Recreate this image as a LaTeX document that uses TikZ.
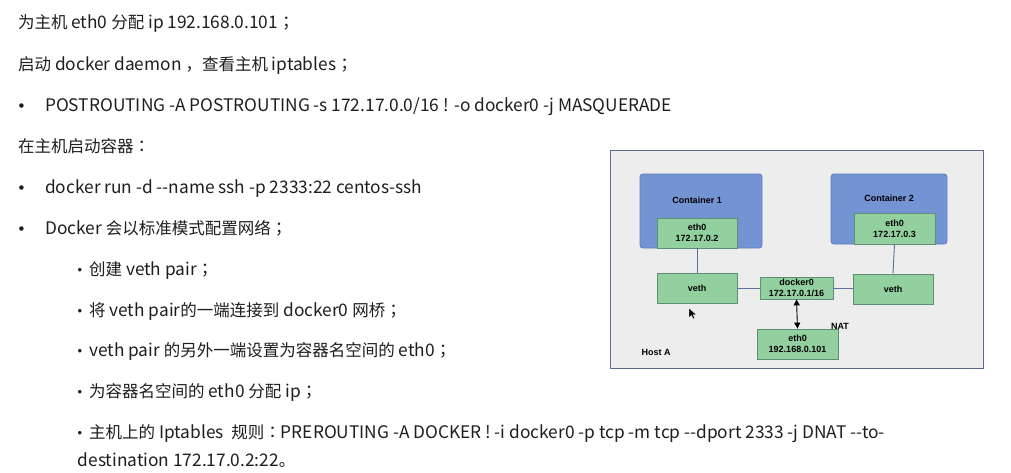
\documentclass[tikz,border=0pt]{standalone}
\usepackage{fontspec}
\setmainfont{Noto Sans CJK SC}[Ligatures=TeXOff]
\newfontfamily\tcf{Noto Sans CJK TC}
\newfontfamily\diagfont{Liberation Sans}
\usetikzlibrary{arrows.meta}
\newcommand\zh[1]{{\fontsize{16.5}{18}\selectfont #1}}
\newcommand\pu[1]{{\tcf\fontsize{16.5}{18}\selectfont #1}}
\definecolor{hostbg}{HTML}{EDEDED}
\definecolor{hostln}{HTML}{5A6B8C}
\definecolor{ctrfill}{HTML}{7393D3}
\definecolor{ctrline}{HTML}{5F7FC4}
\definecolor{grnfill}{HTML}{93D0A0}
\definecolor{grnline}{HTML}{5E8F74}
\definecolor{wire}{HTML}{5B6FA0}
\definecolor{txtcol}{HTML}{1E1E1E}
\tikzset{
  txt/.style={anchor=base west, inner sep=0pt, text=txtcol, font=\fontsize{17.3}{18}\selectfont},
  bigbul/.style={anchor=base west, inner sep=0pt, text=txtcol, font=\diagfont\fontsize{16.5}{18}\selectfont},
  smlbul/.style={anchor=base west, inner sep=0pt, text=txtcol, font=\diagfont\fontsize{13}{14}\selectfont},
  hostbox/.style={draw=hostln, fill=hostbg, line width=0.9pt, inner sep=0pt},
  ctrbox/.style={draw=ctrline, fill=ctrfill, line width=0.9pt, rounded corners=3pt, inner sep=0pt},
  grnbox/.style={draw=grnline, fill=grnfill, line width=0.8pt, inner sep=0pt, align=center,
    font=\diagfont\bfseries\fontsize{9}{11}\selectfont},
  dlabel/.style={inner sep=0pt, font=\diagfont\bfseries\fontsize{9}{11}\selectfont},
  wireln/.style={draw=wire, line width=0.9pt},
}
\begin{document}
\begin{tikzpicture}[x=1pt,y=-1pt]
\useasboundingbox[fill=white] (0,0) rectangle (1011,472);

% ---------- text ----------
\node[txt] (l1) at (18,28) {\zh{为主机} eth0 \zh{分配} ip 192.168.0.101\pu{；}};
\node[txt] (l2) at (18,70) {\zh{启动} docker daemon\hspace{4pt}\zh{，}\zh{查看主机} iptables\pu{；}};
\node[bigbul] (b3) at (18.5,111) {•};
\node[txt] (l3) at (45,111) {POSTROUTING -A POSTROUTING -s 172.17.0.0/16 ! -o docker0 -j MASQUERADE};
\node[txt] (l4) at (18,152) {\zh{在主机启动容器}\pu{：}};
\node[bigbul] (b5) at (18.5,193) {•};
\node[txt] (l5) at (45,193) {docker run -d --name ssh -p 2333:22 centos-ssh};
\node[bigbul] (b6) at (18.5,234) {•};
\node[txt] (l6) at (45,234) {Docker \zh{会以标准模式配置网络}\pu{；}};
\node[smlbul] (b7) at (77.5,274) {•};
\node[txt] (l7) at (89,275) {\zh{创建} veth pair\pu{；}};
\node[smlbul] (b8) at (77.5,315) {•};
\node[txt] (l8) at (89,316) {\zh{将} veth pair\zh{的一端连接到} docker0 \zh{网桥}\pu{；}};
\node[smlbul] (b9) at (77.5,355) {•};
\node[txt] (l9) at (89,356) {veth pair \zh{的另外一端设置为容器名空间的} eth0\pu{；}};
\node[smlbul] (b10) at (77.5,396) {•};
\node[txt] (l10) at (89,397) {\zh{为容器名空间的} eth0 \zh{分配} ip\pu{；}};
\node[smlbul] (b11) at (77.5,437) {•};
\node[txt] (l11) at (89,438) {\zh{主机上的} Iptables\ \ \zh{规则}\pu{：}PREROUTING -A DOCKER ! -i docker0 -p tcp -m tcp --dport 2333 -j DNAT --to-};
\node[txt] (l12) at (77.5,466) {destination 172.17.0.2:22\zh{。}};

% ---------- diagram ----------
\node[hostbox, minimum width=373pt, minimum height=218pt] (host) at (796.5,259) {};
\node[ctrbox, minimum width=122pt, minimum height=74pt] (c1) at (701,211) {};
\node[ctrbox, minimum width=116pt, minimum height=70pt] (c2) at (889,209) {};
\node[dlabel] (c1l) at (697,200) {Container 1};
\node[dlabel] (c2l) at (889,198) {Container 2};
\node[grnbox, minimum width=80pt, minimum height=30pt] (e1) at (697,233) {eth0\\172.17.0.2};
\node[grnbox, minimum width=81pt, minimum height=31pt] (e2) at (894.5,228.5) {eth0\\172.17.0.3};
\node[grnbox, minimum width=80pt, minimum height=30pt] (v1) at (697,288) {veth};
\node[grnbox, minimum width=80pt, minimum height=30pt] (v2) at (893,289) {veth};
\node[grnbox, minimum width=73pt, minimum height=22pt] (d0) at (796.5,288) {docker0\\172.17.0.1/16};
\node[grnbox, minimum width=81pt, minimum height=30pt] (eh) at (797.5,344) {eth0\\192.168.0.101};
\node[dlabel] (nat) at (840,326) {NAT};
\node[dlabel] (hosta) at (656,352.5) {Host A};

\draw[wireln] (e1.south) -- (v1.north);
\draw[wireln] (e2.south) -- (v2.north);
\draw[wireln] (v1.east) -- (d0.west);
\draw[wireln] (d0.east) -- (v2.west |- d0.east);
\draw[line width=0.9pt, {Triangle[length=6pt,width=6pt]}-{Triangle[length=6pt,width=6pt]}]
  (d0.south) -- (eh.north);

% mouse cursor
\filldraw[fill=black, draw=white, line width=0.4pt]
  (689,308) -- (689,318) -- (691.5,315.5) -- (693.2,319) -- (694.8,318.3) -- (693.2,314.8) -- (696.5,314.8) -- cycle;
\end{tikzpicture}
\end{document}
